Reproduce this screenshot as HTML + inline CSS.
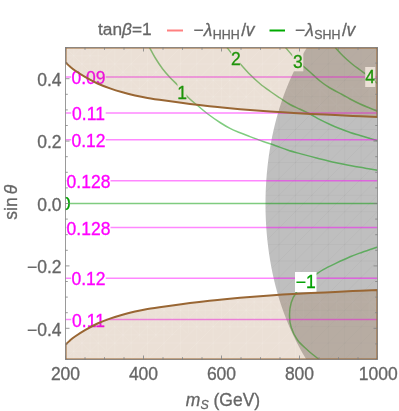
<!DOCTYPE html>
<html><head><meta charset="utf-8"><title>plot</title>
<style>
html,body{margin:0;padding:0;background:#fff;}
svg{display:block;font-family:"Liberation Sans",sans-serif;}
</style></head><body>
<svg width="399" height="411" viewBox="0 0 399 411">
<rect width="399" height="411" fill="#fff"/>
<defs><clipPath id="c"><rect x="65.5" y="47.5" width="312.0" height="312.0"/></clipPath></defs>
<g clip-path="url(#c)">
<defs><path id="m1" d="M81.92,47.5V359.5M65.5,63.92H377.5M98.34,47.5V359.5M65.5,80.34H377.5M114.76,47.5V359.5M65.5,96.76H377.5M131.18,47.5V359.5M65.5,113.18H377.5M147.61,47.5V359.5M65.5,129.61H377.5M164.03,47.5V359.5M65.5,146.03H377.5M180.45,47.5V359.5M65.5,162.45H377.5M196.87,47.5V359.5M65.5,178.87H377.5M213.29,47.5V359.5M65.5,195.29H377.5M229.71,47.5V359.5M65.5,211.71H377.5M246.13,47.5V359.5M65.5,228.13H377.5M262.55,47.5V359.5M65.5,244.55H377.5M278.97,47.5V359.5M65.5,260.97H377.5M295.39,47.5V359.5M65.5,277.39H377.5M311.82,47.5V359.5M65.5,293.82H377.5M328.24,47.5V359.5M65.5,310.24H377.5M344.66,47.5V359.5M65.5,326.66H377.5M361.08,47.5V359.5M65.5,343.08H377.5M65.5,63.92L81.92,47.5M65.5,80.34L98.34,47.5M65.5,96.76L114.76,47.5M65.5,113.18L131.18,47.5M65.5,129.61L147.61,47.5M65.5,146.03L164.03,47.5M65.5,162.45L180.45,47.5M65.5,178.87L196.87,47.5M65.5,195.29L213.29,47.5M65.5,211.71L229.71,47.5M65.5,228.13L246.13,47.5M65.5,244.55L262.55,47.5M65.5,260.97L278.97,47.5M65.5,277.39L295.39,47.5M65.5,293.82L311.82,47.5M65.5,310.24L328.24,47.5M65.5,326.66L344.66,47.5M65.5,343.08L361.08,47.5M65.5,359.50L377.50,47.5M81.92,359.5L377.5,63.92M98.34,359.5L377.5,80.34M114.76,359.5L377.5,96.76M131.18,359.5L377.5,113.18M147.61,359.5L377.5,129.61M164.03,359.5L377.5,146.03M180.45,359.5L377.5,162.45M196.87,359.5L377.5,178.87M213.29,359.5L377.5,195.29M229.71,359.5L377.5,211.71M246.13,359.5L377.5,228.13M262.55,359.5L377.5,244.55M278.97,359.5L377.5,260.97M295.39,359.5L377.5,277.39M311.82,359.5L377.5,293.82M328.24,359.5L377.5,310.24M344.66,359.5L377.5,326.66M361.08,359.5L377.5,343.08" fill="none"/><path id="m2" d="M73.71,47.5V359.5M65.5,55.71H377.5M90.13,47.5V359.5M65.5,72.13H377.5M106.55,47.5V359.5M65.5,88.55H377.5M122.97,47.5V359.5M65.5,104.97H377.5M139.39,47.5V359.5M65.5,121.39H377.5M155.82,47.5V359.5M65.5,137.82H377.5M172.24,47.5V359.5M65.5,154.24H377.5M188.66,47.5V359.5M65.5,170.66H377.5M205.08,47.5V359.5M65.5,187.08H377.5M221.50,47.5V359.5M65.5,203.50H377.5M237.92,47.5V359.5M65.5,219.92H377.5M254.34,47.5V359.5M65.5,236.34H377.5M270.76,47.5V359.5M65.5,252.76H377.5M287.18,47.5V359.5M65.5,269.18H377.5M303.61,47.5V359.5M65.5,285.61H377.5M320.03,47.5V359.5M65.5,302.03H377.5M336.45,47.5V359.5M65.5,318.45H377.5M352.87,47.5V359.5M65.5,334.87H377.5M369.29,47.5V359.5M65.5,351.29H377.5M65.50,-264.50L377.50,47.50M65.50,-248.08L377.50,63.92M65.50,-231.66L377.50,80.34M65.50,-215.24L377.50,96.76M65.50,-198.82L377.50,113.18M65.50,-182.39L377.50,129.61M65.50,-165.97L377.50,146.03M65.50,-149.55L377.50,162.45M65.50,-133.13L377.50,178.87M65.50,-116.71L377.50,195.29M65.50,-100.29L377.50,211.71M65.50,-83.87L377.50,228.13M65.50,-67.45L377.50,244.55M65.50,-51.03L377.50,260.97M65.50,-34.61L377.50,277.39M65.50,-18.18L377.50,293.82M65.50,-1.76L377.50,310.24M65.50,14.66L377.50,326.66M65.50,31.08L377.50,343.08M65.50,47.50L377.50,359.50M65.50,63.92L377.50,375.92M65.50,80.34L377.50,392.34M65.50,96.76L377.50,408.76M65.50,113.18L377.50,425.18M65.50,129.61L377.50,441.61M65.50,146.03L377.50,458.03M65.50,162.45L377.50,474.45M65.50,178.87L377.50,490.87M65.50,195.29L377.50,507.29M65.50,211.71L377.50,523.71M65.50,228.13L377.50,540.13M65.50,244.55L377.50,556.55M65.50,260.97L377.50,572.97M65.50,277.39L377.50,589.39M65.50,293.82L377.50,605.82M65.50,310.24L377.50,622.24M65.50,326.66L377.50,638.66M65.50,343.08L377.50,655.08M65.50,359.50L377.50,671.50" fill="none"/>
<clipPath id="cg"><path d="M306.91,47.50C306.12,48.83 303.70,52.83 302.18,55.50C300.67,58.17 299.22,60.83 297.83,63.50C296.43,66.17 295.10,68.83 293.82,71.50C292.54,74.17 291.32,76.83 290.15,79.50C288.98,82.17 287.86,84.83 286.79,87.50C285.72,90.17 284.70,92.83 283.73,95.50C282.76,98.17 281.83,100.83 280.95,103.50C280.07,106.17 279.24,108.83 278.44,111.50C277.65,114.17 276.90,116.83 276.19,119.50C275.48,122.17 274.81,124.83 274.18,127.50C273.54,130.17 272.95,132.83 272.40,135.50C271.84,138.17 271.32,140.83 270.84,143.50C270.35,146.17 269.90,148.83 269.49,151.50C269.08,154.17 268.70,156.83 268.35,159.50C268.00,162.17 267.69,164.83 267.41,167.50C267.13,170.17 266.88,172.83 266.66,175.50C266.44,178.17 266.25,180.83 266.10,183.50C265.94,186.17 265.82,188.83 265.72,191.50C265.63,194.17 265.56,196.83 265.53,199.50C265.49,202.17 265.49,204.83 265.52,207.50C265.54,210.17 265.60,212.83 265.69,215.50C265.77,218.17 265.89,220.83 266.04,223.50C266.19,226.17 266.37,228.83 266.58,231.50C266.79,234.17 267.03,236.83 267.30,239.50C267.58,242.17 267.88,244.83 268.22,247.50C268.56,250.17 268.93,252.83 269.34,255.50C269.74,258.17 270.18,260.83 270.66,263.50C271.13,266.17 271.64,268.83 272.19,271.50C272.74,274.17 273.32,276.83 273.94,279.50C274.56,282.17 275.22,284.83 275.92,287.50C276.62,290.17 277.36,292.83 278.15,295.50C278.93,298.17 279.75,300.83 280.62,303.50C281.49,306.17 282.41,308.83 283.37,311.50C284.33,314.17 285.34,316.83 286.39,319.50C287.45,322.17 288.55,324.83 289.71,327.50C290.87,330.17 292.08,332.83 293.35,335.50C294.61,338.17 295.93,340.83 297.31,343.50C298.69,346.17 300.12,348.83 301.62,351.50C303.12,354.17 305.52,358.17 306.30,359.50L377.5,359.5L377.5,47.5Z"/></clipPath><clipPath id="cu"><path d="M65.50,62.30C66.25,63.02 68.42,65.23 70.00,66.60C71.58,67.97 72.50,68.78 75.00,70.50C77.50,72.22 81.25,74.73 85.00,76.90C88.75,79.07 93.33,81.58 97.50,83.50C101.67,85.42 105.83,86.93 110.00,88.40C114.17,89.87 118.33,91.12 122.50,92.30C126.67,93.48 130.83,94.55 135.00,95.50C139.17,96.45 142.50,97.15 147.50,98.00C152.50,98.85 157.92,99.62 165.00,100.60C172.08,101.58 181.67,102.87 190.00,103.90C198.33,104.93 206.67,105.92 215.00,106.80C223.33,107.68 230.83,108.40 240.00,109.20C249.17,110.00 260.40,110.92 270.00,111.60C279.60,112.28 288.43,112.80 297.60,113.30C306.77,113.80 315.82,114.17 325.00,114.60C334.18,115.03 343.95,115.50 352.70,115.90C361.45,116.30 373.37,116.82 377.50,117.00L377.5,47.5L65.5,47.5Z"/><path d="M65.50,344.70C66.25,343.98 68.42,341.77 70.00,340.40C71.58,339.03 72.50,338.22 75.00,336.50C77.50,334.78 81.25,332.27 85.00,330.10C88.75,327.93 93.33,325.42 97.50,323.50C101.67,321.58 105.83,320.07 110.00,318.60C114.17,317.13 118.33,315.88 122.50,314.70C126.67,313.52 130.83,312.45 135.00,311.50C139.17,310.55 142.50,309.85 147.50,309.00C152.50,308.15 157.92,307.38 165.00,306.40C172.08,305.42 181.67,304.13 190.00,303.10C198.33,302.07 206.67,301.08 215.00,300.20C223.33,299.32 230.83,298.60 240.00,297.80C249.17,297.00 260.40,296.08 270.00,295.40C279.60,294.72 288.43,294.20 297.60,293.70C306.77,293.20 315.82,292.83 325.00,292.40C334.18,291.97 343.95,291.50 352.70,291.10C361.45,290.70 373.37,290.18 377.50,290.00L377.5,359.5L65.5,359.5Z"/></clipPath><clipPath id="cb"><path d="M65.50,62.30C66.25,63.02 68.42,65.23 70.00,66.60C71.58,67.97 72.50,68.78 75.00,70.50C77.50,72.22 81.25,74.73 85.00,76.90C88.75,79.07 93.33,81.58 97.50,83.50C101.67,85.42 105.83,86.93 110.00,88.40C114.17,89.87 118.33,91.12 122.50,92.30C126.67,93.48 130.83,94.55 135.00,95.50C139.17,96.45 142.50,97.15 147.50,98.00C152.50,98.85 157.92,99.62 165.00,100.60C172.08,101.58 181.67,102.87 190.00,103.90C198.33,104.93 206.67,105.92 215.00,106.80C223.33,107.68 230.83,108.40 240.00,109.20C249.17,110.00 260.40,110.92 270.00,111.60C279.60,112.28 288.43,112.80 297.60,113.30C306.77,113.80 315.82,114.17 325.00,114.60C334.18,115.03 343.95,115.50 352.70,115.90C361.45,116.30 373.37,116.82 377.50,117.00L377.50,87.00C373.37,86.82 361.45,86.30 352.70,85.90C343.95,85.50 334.18,85.03 325.00,84.60C315.82,84.17 306.77,83.80 297.60,83.30C288.43,82.80 279.60,82.28 270.00,81.60C260.40,80.92 249.17,80.00 240.00,79.20C230.83,78.40 223.33,77.68 215.00,76.80C206.67,75.92 198.33,74.93 190.00,73.90C181.67,72.87 172.08,71.58 165.00,70.60C157.92,69.62 152.50,68.85 147.50,68.00C142.50,67.15 139.17,66.45 135.00,65.50C130.83,64.55 126.67,63.48 122.50,62.30C118.33,61.12 114.17,59.87 110.00,58.40C105.83,56.93 101.67,55.42 97.50,53.50C93.33,51.58 88.75,49.07 85.00,46.90C81.25,44.73 77.50,42.22 75.00,40.50C72.50,38.78 71.58,37.97 70.00,36.60C68.42,35.23 66.25,33.02 65.50,32.30Z"/><path d="M65.50,344.70C66.25,343.98 68.42,341.77 70.00,340.40C71.58,339.03 72.50,338.22 75.00,336.50C77.50,334.78 81.25,332.27 85.00,330.10C88.75,327.93 93.33,325.42 97.50,323.50C101.67,321.58 105.83,320.07 110.00,318.60C114.17,317.13 118.33,315.88 122.50,314.70C126.67,313.52 130.83,312.45 135.00,311.50C139.17,310.55 142.50,309.85 147.50,309.00C152.50,308.15 157.92,307.38 165.00,306.40C172.08,305.42 181.67,304.13 190.00,303.10C198.33,302.07 206.67,301.08 215.00,300.20C223.33,299.32 230.83,298.60 240.00,297.80C249.17,297.00 260.40,296.08 270.00,295.40C279.60,294.72 288.43,294.20 297.60,293.70C306.77,293.20 315.82,292.83 325.00,292.40C334.18,291.97 343.95,291.50 352.70,291.10C361.45,290.70 373.37,290.18 377.50,290.00L377.50,320.00C373.37,320.18 361.45,320.70 352.70,321.10C343.95,321.50 334.18,321.97 325.00,322.40C315.82,322.83 306.77,323.20 297.60,323.70C288.43,324.20 279.60,324.72 270.00,325.40C260.40,326.08 249.17,327.00 240.00,327.80C230.83,328.60 223.33,329.32 215.00,330.20C206.67,331.08 198.33,332.07 190.00,333.10C181.67,334.13 172.08,335.42 165.00,336.40C157.92,337.38 152.50,338.15 147.50,339.00C142.50,339.85 139.17,340.55 135.00,341.50C130.83,342.45 126.67,343.52 122.50,344.70C118.33,345.88 114.17,347.13 110.00,348.60C105.83,350.07 101.67,351.58 97.50,353.50C93.33,355.42 88.75,357.93 85.00,360.10C81.25,362.27 77.50,364.78 75.00,366.50C72.50,368.22 71.58,369.03 70.00,370.40C68.42,371.77 66.25,373.98 65.50,374.70Z"/></clipPath></defs>
<path d="M306.91,47.50C306.12,48.83 303.70,52.83 302.18,55.50C300.67,58.17 299.22,60.83 297.83,63.50C296.43,66.17 295.10,68.83 293.82,71.50C292.54,74.17 291.32,76.83 290.15,79.50C288.98,82.17 287.86,84.83 286.79,87.50C285.72,90.17 284.70,92.83 283.73,95.50C282.76,98.17 281.83,100.83 280.95,103.50C280.07,106.17 279.24,108.83 278.44,111.50C277.65,114.17 276.90,116.83 276.19,119.50C275.48,122.17 274.81,124.83 274.18,127.50C273.54,130.17 272.95,132.83 272.40,135.50C271.84,138.17 271.32,140.83 270.84,143.50C270.35,146.17 269.90,148.83 269.49,151.50C269.08,154.17 268.70,156.83 268.35,159.50C268.00,162.17 267.69,164.83 267.41,167.50C267.13,170.17 266.88,172.83 266.66,175.50C266.44,178.17 266.25,180.83 266.10,183.50C265.94,186.17 265.82,188.83 265.72,191.50C265.63,194.17 265.56,196.83 265.53,199.50C265.49,202.17 265.49,204.83 265.52,207.50C265.54,210.17 265.60,212.83 265.69,215.50C265.77,218.17 265.89,220.83 266.04,223.50C266.19,226.17 266.37,228.83 266.58,231.50C266.79,234.17 267.03,236.83 267.30,239.50C267.58,242.17 267.88,244.83 268.22,247.50C268.56,250.17 268.93,252.83 269.34,255.50C269.74,258.17 270.18,260.83 270.66,263.50C271.13,266.17 271.64,268.83 272.19,271.50C272.74,274.17 273.32,276.83 273.94,279.50C274.56,282.17 275.22,284.83 275.92,287.50C276.62,290.17 277.36,292.83 278.15,295.50C278.93,298.17 279.75,300.83 280.62,303.50C281.49,306.17 282.41,308.83 283.37,311.50C284.33,314.17 285.34,316.83 286.39,319.50C287.45,322.17 288.55,324.83 289.71,327.50C290.87,330.17 292.08,332.83 293.35,335.50C294.61,338.17 295.93,340.83 297.31,343.50C298.69,346.17 300.12,348.83 301.62,351.50C303.12,354.17 305.52,358.17 306.30,359.50L377.5,359.5L377.5,47.5Z" fill="#808080" fill-opacity="0.5"/>
<g clip-path="url(#cg)"><use href="#m1" stroke="#000" stroke-opacity="0.035" stroke-width="0.8"/></g>
<path d="M149.50,47.50C150.42,49.17 152.83,53.96 155.00,57.50C157.17,61.04 160.00,65.42 162.50,68.75C165.00,72.08 167.50,74.79 170.00,77.50C172.50,80.21 175.50,82.83 177.50,85.00C179.50,87.17 180.12,88.33 182.00,90.50C183.88,92.67 186.17,95.50 188.75,98.00C191.33,100.50 194.38,102.88 197.50,105.50C200.62,108.12 203.75,110.92 207.50,113.75C211.25,116.58 216.25,120.06 220.00,122.50C223.75,124.94 226.67,126.68 230.00,128.40C233.33,130.12 236.67,131.43 240.00,132.80C243.33,134.17 246.25,135.18 250.00,136.60C253.75,138.02 258.33,139.82 262.50,141.30C266.67,142.78 270.83,144.05 275.00,145.50C279.17,146.95 283.33,148.65 287.50,150.00C291.67,151.35 295.00,152.23 300.00,153.60C305.00,154.97 311.67,156.70 317.50,158.20C323.33,159.70 329.15,161.28 335.00,162.60C340.85,163.92 346.77,165.03 352.60,166.10C358.43,167.17 365.85,168.32 370.00,169.00C374.15,169.68 376.25,170.00 377.50,170.20" fill="none" stroke="#009900" stroke-opacity="0.5" stroke-width="1.5"/>
<path d="M227.00,47.50C228.46,49.38 233.38,55.83 235.75,58.75C238.12,61.67 238.88,62.38 241.25,65.00C243.62,67.62 246.88,71.38 250.00,74.50C253.12,77.62 256.67,80.96 260.00,83.75C263.33,86.54 266.67,88.88 270.00,91.25C273.33,93.62 276.67,95.79 280.00,98.00C283.33,100.21 286.67,102.63 290.00,104.50C293.33,106.37 296.67,107.62 300.00,109.20C303.33,110.78 306.67,112.27 310.00,114.00C313.33,115.73 316.65,117.85 320.00,119.60C323.35,121.35 326.75,122.98 330.10,124.50C333.45,126.02 336.77,127.37 340.10,128.70C343.43,130.03 346.77,131.37 350.10,132.50C353.43,133.63 356.77,134.50 360.10,135.50C363.43,136.50 367.20,137.65 370.10,138.50C373.00,139.35 376.27,140.25 377.50,140.60" fill="none" stroke="#009900" stroke-opacity="0.5" stroke-width="1.5"/>
<path d="M285.50,47.50C287.52,49.83 294.68,58.42 297.60,61.50C300.52,64.58 300.93,64.25 303.00,66.00C305.07,67.75 307.17,69.50 310.00,72.00C312.83,74.50 316.67,78.33 320.00,81.00C323.33,83.67 326.32,85.75 330.00,88.00C333.68,90.25 338.75,92.67 342.10,94.50C345.45,96.33 347.10,97.42 350.10,99.00C353.10,100.58 356.77,102.47 360.10,104.00C363.43,105.53 367.20,107.00 370.10,108.20C373.00,109.40 376.27,110.70 377.50,111.20" fill="none" stroke="#009900" stroke-opacity="0.5" stroke-width="1.5"/>
<path d="M335.10,47.50C336.43,48.92 340.27,53.25 343.10,56.00C345.93,58.75 349.27,61.67 352.10,64.00C354.93,66.33 357.93,68.38 360.10,70.00C362.27,71.62 363.45,72.45 365.10,73.70C366.75,74.95 367.93,75.87 370.00,77.50C372.07,79.13 376.25,82.50 377.50,83.50" fill="none" stroke="#009900" stroke-opacity="0.5" stroke-width="1.5"/>
<path d="M377.50,247.00C374.97,247.87 366.85,250.58 362.30,252.20C357.75,253.82 354.72,254.80 350.20,256.70C345.68,258.60 339.70,261.45 335.20,263.60C330.70,265.75 326.32,267.85 323.20,269.60C320.08,271.35 319.53,271.87 316.50,274.10C313.47,276.33 308.38,279.93 305.00,283.00C301.62,286.07 298.54,289.25 296.25,292.50C293.96,295.75 292.38,298.75 291.25,302.50C290.12,306.25 289.50,310.83 289.50,315.00C289.50,319.17 289.92,323.33 291.25,327.50C292.58,331.67 294.79,336.25 297.50,340.00C300.21,343.75 303.92,346.75 307.50,350.00C311.08,353.25 317.08,357.92 319.00,359.50" fill="none" stroke="#009900" stroke-opacity="0.5" stroke-width="1.5"/>
<path d="M65.5,203.5H377.5" fill="none" stroke="#009900" stroke-opacity="0.5" stroke-width="1.5"/>
<path d="M65.5,77H377.5" fill="none" stroke="#ff00ff" stroke-opacity="0.47" stroke-width="1.45"/>
<path d="M65.5,113H377.5" fill="none" stroke="#ff00ff" stroke-opacity="0.47" stroke-width="1.45"/>
<path d="M65.5,139.8H377.5" fill="none" stroke="#ff00ff" stroke-opacity="0.47" stroke-width="1.45"/>
<path d="M65.5,180.75H377.5" fill="none" stroke="#ff00ff" stroke-opacity="0.47" stroke-width="1.45"/>
<path d="M65.5,227.5H377.5" fill="none" stroke="#ff00ff" stroke-opacity="0.47" stroke-width="1.45"/>
<path d="M65.5,278.2H377.5" fill="none" stroke="#ff00ff" stroke-opacity="0.47" stroke-width="1.45"/>
<path d="M65.5,319.4H377.5" fill="none" stroke="#ff00ff" stroke-opacity="0.47" stroke-width="1.45"/>
<rect x="71.2" y="67.8" width="34.5" height="20" fill="#fff"/>
<text x="88.5" y="84.1" font-size="17.5" fill="#ff00ff" stroke="#ff00ff" stroke-width="0.3" text-anchor="middle">0.09</text>
<rect x="71.2" y="103.8" width="34.5" height="20" fill="#fff"/>
<text x="88.5" y="120.1" font-size="17.5" fill="#ff00ff" stroke="#ff00ff" stroke-width="0.3" text-anchor="middle">0.11</text>
<rect x="71.2" y="130.6" width="34.5" height="20" fill="#fff"/>
<text x="88.5" y="146.9" font-size="17.5" fill="#ff00ff" stroke="#ff00ff" stroke-width="0.3" text-anchor="middle">0.12</text>
<rect x="66.5" y="171.6" width="44" height="20" fill="#fff"/>
<text x="88.5" y="187.9" font-size="17.5" fill="#ff00ff" stroke="#ff00ff" stroke-width="0.3" text-anchor="middle">0.128</text>
<rect x="66.5" y="218.3" width="44" height="20" fill="#fff"/>
<text x="88.5" y="234.6" font-size="17.5" fill="#ff00ff" stroke="#ff00ff" stroke-width="0.3" text-anchor="middle">0.128</text>
<rect x="71.2" y="269.0" width="34.5" height="20" fill="#fff"/>
<text x="88.5" y="285.3" font-size="17.5" fill="#ff00ff" stroke="#ff00ff" stroke-width="0.3" text-anchor="middle">0.12</text>
<rect x="71.2" y="310.2" width="34.5" height="20" fill="#fff"/>
<text x="88.5" y="326.5" font-size="17.5" fill="#ff00ff" stroke="#ff00ff" stroke-width="0.3" text-anchor="middle">0.11</text>
<rect x="61.0" y="194.0" width="9" height="19" fill="#fff"/>
<text x="65.5" y="209.8" font-size="17.5" fill="#00a000" stroke="#00a000" stroke-width="0.3" text-anchor="middle">0</text>
<rect x="177.5" y="83.0" width="9" height="19" fill="#fff"/>
<text x="182" y="98.8" font-size="17.5" fill="#00a000" stroke="#00a000" stroke-width="0.3" text-anchor="middle">1</text>
<rect x="231.2" y="49.5" width="9" height="19" fill="#fff"/>
<text x="235.75" y="65.3" font-size="17.5" fill="#00a000" stroke="#00a000" stroke-width="0.3" text-anchor="middle">2</text>
<rect x="292.3" y="52.3" width="11" height="19" fill="#fff"/>
<text x="297.8" y="68.1" font-size="17.5" fill="#00a000" stroke="#00a000" stroke-width="0.3" text-anchor="middle">3</text>
<rect x="365.2" y="67.0" width="10" height="20" fill="#fff"/>
<text x="370.2" y="83.3" font-size="17.5" fill="#00a000" stroke="#00a000" stroke-width="0.3" text-anchor="middle">4</text>
<rect x="295.0" y="272.0" width="21.5" height="20" fill="#fff"/>
<text x="305.75" y="288.3" font-size="17.5" fill="#00a000" stroke="#00a000" stroke-width="0.3" text-anchor="middle">−1</text>
<mask id="mk" maskUnits="userSpaceOnUse" x="0" y="0" width="399" height="411"><rect width="399" height="411" fill="#fff"/><use href="#m1" stroke="#000" stroke-opacity="0.12" stroke-width="0.7"/><g clip-path="url(#cb)"><use href="#m2" stroke="#000" stroke-opacity="0.10" stroke-width="0.7"/></g></mask>
<g mask="url(#mk)"><path d="M65.50,62.30C66.25,63.02 68.42,65.23 70.00,66.60C71.58,67.97 72.50,68.78 75.00,70.50C77.50,72.22 81.25,74.73 85.00,76.90C88.75,79.07 93.33,81.58 97.50,83.50C101.67,85.42 105.83,86.93 110.00,88.40C114.17,89.87 118.33,91.12 122.50,92.30C126.67,93.48 130.83,94.55 135.00,95.50C139.17,96.45 142.50,97.15 147.50,98.00C152.50,98.85 157.92,99.62 165.00,100.60C172.08,101.58 181.67,102.87 190.00,103.90C198.33,104.93 206.67,105.92 215.00,106.80C223.33,107.68 230.83,108.40 240.00,109.20C249.17,110.00 260.40,110.92 270.00,111.60C279.60,112.28 288.43,112.80 297.60,113.30C306.77,113.80 315.82,114.17 325.00,114.60C334.18,115.03 343.95,115.50 352.70,115.90C361.45,116.30 373.37,116.82 377.50,117.00L377.5,47.5L65.5,47.5Z" fill="#996633" fill-opacity="0.2"/>
<path d="M65.50,344.70C66.25,343.98 68.42,341.77 70.00,340.40C71.58,339.03 72.50,338.22 75.00,336.50C77.50,334.78 81.25,332.27 85.00,330.10C88.75,327.93 93.33,325.42 97.50,323.50C101.67,321.58 105.83,320.07 110.00,318.60C114.17,317.13 118.33,315.88 122.50,314.70C126.67,313.52 130.83,312.45 135.00,311.50C139.17,310.55 142.50,309.85 147.50,309.00C152.50,308.15 157.92,307.38 165.00,306.40C172.08,305.42 181.67,304.13 190.00,303.10C198.33,302.07 206.67,301.08 215.00,300.20C223.33,299.32 230.83,298.60 240.00,297.80C249.17,297.00 260.40,296.08 270.00,295.40C279.60,294.72 288.43,294.20 297.60,293.70C306.77,293.20 315.82,292.83 325.00,292.40C334.18,291.97 343.95,291.50 352.70,291.10C361.45,290.70 373.37,290.18 377.50,290.00L377.5,359.5L65.5,359.5Z" fill="#996633" fill-opacity="0.2"/></g>
<path d="M65.50,62.30C66.25,63.02 68.42,65.23 70.00,66.60C71.58,67.97 72.50,68.78 75.00,70.50C77.50,72.22 81.25,74.73 85.00,76.90C88.75,79.07 93.33,81.58 97.50,83.50C101.67,85.42 105.83,86.93 110.00,88.40C114.17,89.87 118.33,91.12 122.50,92.30C126.67,93.48 130.83,94.55 135.00,95.50C139.17,96.45 142.50,97.15 147.50,98.00C152.50,98.85 157.92,99.62 165.00,100.60C172.08,101.58 181.67,102.87 190.00,103.90C198.33,104.93 206.67,105.92 215.00,106.80C223.33,107.68 230.83,108.40 240.00,109.20C249.17,110.00 260.40,110.92 270.00,111.60C279.60,112.28 288.43,112.80 297.60,113.30C306.77,113.80 315.82,114.17 325.00,114.60C334.18,115.03 343.95,115.50 352.70,115.90C361.45,116.30 373.37,116.82 377.50,117.00L377.5,47.5L65.5,47.5Z" fill="none" stroke="#996633" stroke-width="2" stroke-linejoin="miter"/>
<path d="M65.50,344.70C66.25,343.98 68.42,341.77 70.00,340.40C71.58,339.03 72.50,338.22 75.00,336.50C77.50,334.78 81.25,332.27 85.00,330.10C88.75,327.93 93.33,325.42 97.50,323.50C101.67,321.58 105.83,320.07 110.00,318.60C114.17,317.13 118.33,315.88 122.50,314.70C126.67,313.52 130.83,312.45 135.00,311.50C139.17,310.55 142.50,309.85 147.50,309.00C152.50,308.15 157.92,307.38 165.00,306.40C172.08,305.42 181.67,304.13 190.00,303.10C198.33,302.07 206.67,301.08 215.00,300.20C223.33,299.32 230.83,298.60 240.00,297.80C249.17,297.00 260.40,296.08 270.00,295.40C279.60,294.72 288.43,294.20 297.60,293.70C306.77,293.20 315.82,292.83 325.00,292.40C334.18,291.97 343.95,291.50 352.70,291.10C361.45,290.70 373.37,290.18 377.50,290.00L377.5,359.5L65.5,359.5Z" fill="none" stroke="#996633" stroke-width="2" stroke-linejoin="miter"/>
</g>
<rect x="65.5" y="47.5" width="312.0" height="312.0" fill="none" stroke="#7a7a7a" stroke-width="0.75"/>
<path d="M65.50,359.5v-4M65.50,47.5v4M85.00,359.5v-2.3M85.00,47.5v2.3M104.50,359.5v-2.3M104.50,47.5v2.3M124.00,359.5v-2.3M124.00,47.5v2.3M143.50,359.5v-4M143.50,47.5v4M163.00,359.5v-2.3M163.00,47.5v2.3M182.50,359.5v-2.3M182.50,47.5v2.3M202.00,359.5v-2.3M202.00,47.5v2.3M221.50,359.5v-4M221.50,47.5v4M241.00,359.5v-2.3M241.00,47.5v2.3M260.50,359.5v-2.3M260.50,47.5v2.3M280.00,359.5v-2.3M280.00,47.5v2.3M299.50,359.5v-4M299.50,47.5v4M319.00,359.5v-2.3M319.00,47.5v2.3M338.50,359.5v-2.3M338.50,47.5v2.3M358.00,359.5v-2.3M358.00,47.5v2.3M377.50,359.5v-4M377.50,47.5v4M65.5,47.50h2.3M377.5,47.50h-2.3M65.5,63.10h2.3M377.5,63.10h-2.3M65.5,78.70h4M377.5,78.70h-4M65.5,94.30h2.3M377.5,94.30h-2.3M65.5,109.90h2.3M377.5,109.90h-2.3M65.5,125.50h2.3M377.5,125.50h-2.3M65.5,141.10h4M377.5,141.10h-4M65.5,156.70h2.3M377.5,156.70h-2.3M65.5,172.30h2.3M377.5,172.30h-2.3M65.5,187.90h2.3M377.5,187.90h-2.3M65.5,203.50h4M377.5,203.50h-4M65.5,219.10h2.3M377.5,219.10h-2.3M65.5,234.70h2.3M377.5,234.70h-2.3M65.5,250.30h2.3M377.5,250.30h-2.3M65.5,265.90h4M377.5,265.90h-4M65.5,281.50h2.3M377.5,281.50h-2.3M65.5,297.10h2.3M377.5,297.10h-2.3M65.5,312.70h2.3M377.5,312.70h-2.3M65.5,328.30h4M377.5,328.30h-4M65.5,343.90h2.3M377.5,343.90h-2.3M65.5,359.50h2.3M377.5,359.50h-2.3" fill="none" stroke="#808080" stroke-width="0.8"/>
<text x="65.5" y="380" font-size="17.5" fill="#666" stroke="#666" stroke-width="0.3" text-anchor="middle">200</text>
<text x="143.5" y="380" font-size="17.5" fill="#666" stroke="#666" stroke-width="0.3" text-anchor="middle">400</text>
<text x="221.5" y="380" font-size="17.5" fill="#666" stroke="#666" stroke-width="0.3" text-anchor="middle">600</text>
<text x="299.5" y="380" font-size="17.5" fill="#666" stroke="#666" stroke-width="0.3" text-anchor="middle">800</text>
<text x="378.2" y="380" font-size="17.5" fill="#666" stroke="#666" stroke-width="0.3" text-anchor="middle">1000</text>
<text x="61.5" y="85.9" font-size="17.5" fill="#666" stroke="#666" stroke-width="0.3" text-anchor="end">0.4</text>
<text x="61.5" y="148.3" font-size="17.5" fill="#666" stroke="#666" stroke-width="0.3" text-anchor="end">0.2</text>
<text x="61.5" y="210.7" font-size="17.5" fill="#666" stroke="#666" stroke-width="0.3" text-anchor="end">0.0</text>
<text x="61.5" y="273.1" font-size="17.5" fill="#666" stroke="#666" stroke-width="0.3" text-anchor="end">−0.2</text>
<text x="61.5" y="335.5" font-size="17.5" fill="#666" stroke="#666" stroke-width="0.3" text-anchor="end">−0.4</text>
<text x="223" y="405.5" font-size="17.5" fill="#666" stroke="#666" stroke-width="0.3" text-anchor="middle"><tspan font-style="italic">m</tspan><tspan font-size="12.4" font-style="italic" dy="3">S</tspan><tspan dy="-3"> (GeV)</tspan></text>
<text transform="translate(16.5,202.3) rotate(-90)" font-size="17.5" fill="#666" stroke="#666" stroke-width="0.3" text-anchor="middle">sin<tspan font-style="italic" dx="3">θ</tspan></text>
<text x="98" y="35" font-size="17.3" fill="#666" stroke="#666" stroke-width="0.3">tan<tspan font-style="italic">β</tspan>=1</text>
<path d="M167,30.5h16" stroke="#ff8080" stroke-width="2"/>
<text x="193.5" y="35.5" font-size="17.5" fill="#666" stroke="#666" stroke-width="0.3">−<tspan font-style="italic">λ</tspan><tspan font-size="12.4" dy="3" dx="0.5">HHH</tspan><tspan dy="-3" dx="1.5">/</tspan><tspan font-style="italic" dx="-0.3">v</tspan></text>
<path d="M269.5,30.5h15.5" stroke="#00aa00" stroke-width="2"/>
<text x="295" y="35.5" font-size="17.5" fill="#666" stroke="#666" stroke-width="0.3">−<tspan font-style="italic">λ</tspan><tspan font-size="12.4" dy="3" dx="0.5">SHH</tspan><tspan dy="-3" dx="1.5">/</tspan><tspan font-style="italic" dx="-0.3">v</tspan></text>
</svg></body></html>
